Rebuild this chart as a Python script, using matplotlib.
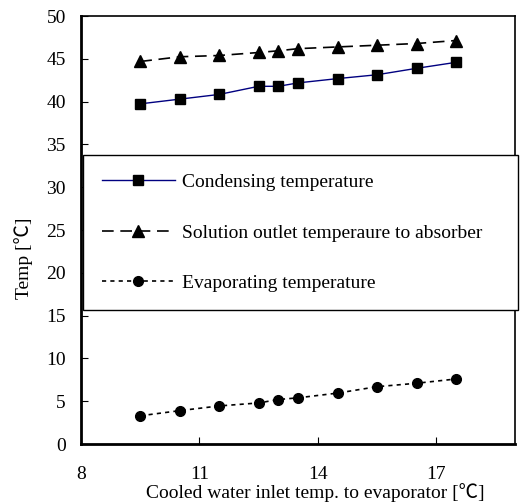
import numpy as np
import matplotlib.pyplot as plt

# Datos
agua_entrada = [9.5, 10.5, 11.5, 12.5, 13.0, 13.5, 14.5, 15.5, 16.5, 17.5]
temp_cond = [39.75, 40.3, 40.85, 41.8, 41.8, 42.2, 42.7, 43.15, 43.9, 44.6]
temp_sol = [44.7, 45.25, 45.4, 45.75, 45.95, 46.2, 46.4, 46.6, 46.8, 47.15]
temp_evap = [3.3, 3.9, 4.45, 4.8, 5.2, 5.4, 5.95, 6.7, 7.1, 7.6]

etiquetas = ['Condensing temperature',
             'Solution outlet temperaure to absorber',
             'Evaporating temperature']
ticks_x = [8, 11, 14, 17]
ticks_y = [0, 5, 10, 15, 20, 25, 30, 35, 40, 45, 50]

plt.rcParams['font.family'] = ['Liberation Serif', 'Noto Sans CJK JP', 'DejaVu Sans']
plt.rcParams['font.size'] = 14

fig = plt.figure(figsize=(5.3, 5.04), dpi=100)
ax = fig.add_axes([0.153, 0.119, 0.819, 0.849])

ax.plot(agua_entrada, temp_cond, color='#000080', lw=1.0, marker='s', ms=7,
        mfc='k', mec='k', label=etiquetas[0])
ax.plot(agua_entrada, temp_sol, color='k', lw=1.2, ls=(0, (7, 4)), marker='^', ms=8,
        mfc='k', mec='k', label=etiquetas[1])
ax.plot(agua_entrada, temp_evap, color='k', lw=1.2, ls=(0, (2.5, 2.5)), marker='o', ms=7,
        mfc='k', mec='k', label=etiquetas[2])

ax.set_xlim(8, 19)
ax.set_ylim(0, 50)
ax.set_xticks(ticks_x)
ax.set_yticks(ticks_y)
ax.tick_params(axis='x', direction='in', length=5, pad=16)
ax.tick_params(axis='y', direction='in', length=5, pad=11)

for lado in ['left', 'bottom']:
    ax.spines[lado].set_linewidth(2)
for lado in ['top', 'right']:
    ax.spines[lado].set_linewidth(1.2)

ax.set_xlabel('Cooled water inlet temp. to evaporator [℃]')
ax.xaxis.set_label_coords(0.54, -0.092)
ax.set_ylabel('Temp [℃]')
ax.yaxis.set_label_coords(-0.11, 0.435)

leg = ax.legend(loc='upper left', bbox_to_anchor=(0.005, 0.313, 1.002, 0.362),
                mode='expand', fancybox=False, edgecolor='k', framealpha=1,
                handlelength=3.75, handletextpad=0.36, labelspacing=1.68,
                borderpad=0.95, borderaxespad=0)
leg.get_frame().set_linewidth(1.0)

plt.savefig('out.png', dpi=100)
plt.close()
